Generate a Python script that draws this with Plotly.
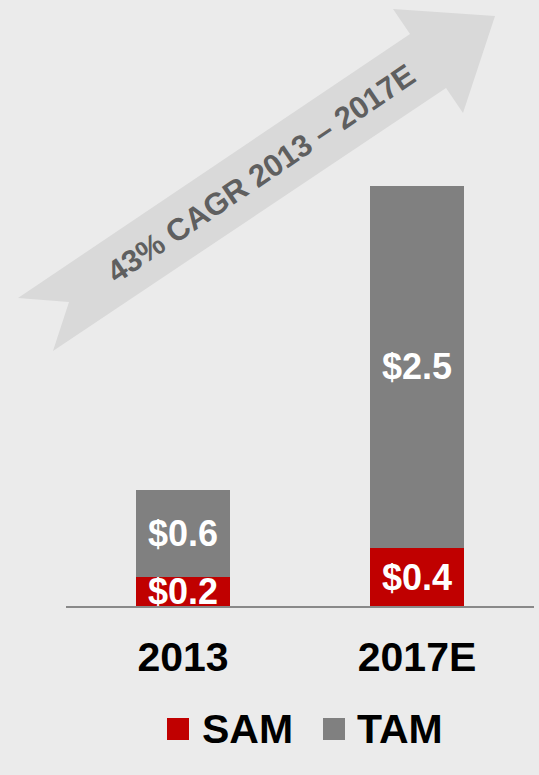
import plotly.graph_objects as go

W, H = 539, 775

years = ["2013", "2017E"]
sam = [0.2, 0.4]
tam = [0.6, 2.5]
sam_labels = ["$0.2", "$0.4"]
tam_labels = ["$0.6", "$2.5"]
cagr_text = "43% CAGR 2013 – 2017E"

RED = "#c00000"
GREY = "#808080"
BG = "#ebebeb"
FONT = "Liberation Sans, Arial, sans-serif"


def px(x, y):
    # pixel -> paper fraction (margins are zero so paper == whole figure)
    return x / W, 1 - y / H


fig = go.Figure()
fig.add_trace(go.Bar(
    x=years, y=sam, name="SAM", marker=dict(color=RED, line=dict(width=0)),
    text=sam_labels, textposition="inside", insidetextanchor="middle",
    textangle=0, constraintext="none",
    textfont=dict(family=FONT, size=36, color="white", weight="bold"),
))
fig.add_trace(go.Bar(
    x=years, y=tam, name="TAM", marker=dict(color=GREY, line=dict(width=0)),
    text=tam_labels, textposition="inside", insidetextanchor="middle",
    textangle=0, constraintext="none",
    textfont=dict(family=FONT, size=36, color="white", weight="bold"),
))

# big growth arrow behind the bars
pts = [(18, 298), (410, 34), (393, 9), (495, 16), (463, 113),
       (446, 88), (53, 351), (69, 302)]
path = ""
for i, (x, y) in enumerate(pts):
    fx, fy = px(x, y)
    path += ("M" if i == 0 else "L") + f"{fx:.4f},{fy:.4f}"
path += "Z"
fig.add_shape(type="path", path=path, xref="paper", yref="paper",
              fillcolor="#d9d9d9", line=dict(width=0), layer="below")

cx, cy = px(261, 173)
fig.add_annotation(x=cx, y=cy, xref="paper", yref="paper", text=cagr_text,
                   showarrow=False, textangle=-34, xanchor="center", yanchor="middle",
                   font=dict(family=FONT, size=31, color="#5f5f5f", weight="bold"))

# legend drawn by hand for the large square swatches
legend = [("SAM", RED, 167, 200), ("TAM", GREY, 323, 355)]
for name, col, sx, tx in legend:
    x0, y0 = px(sx, 718)
    x1, y1 = px(sx + 22, 740)
    fig.add_shape(type="rect", xref="paper", yref="paper", x0=x0, y0=y0, x1=x1, y1=y1,
                  fillcolor=col, line=dict(width=0))
    lx, ly = px(tx, 729)
    fig.add_annotation(x=lx, y=ly, xref="paper", yref="paper", text=name,
                       showarrow=False, xanchor="left", yanchor="middle",
                       font=dict(family=FONT, size=41, color="black", weight="bold"))

fig.update_layout(
    width=W, height=H,
    margin=dict(l=0, r=0, t=0, b=0),
    paper_bgcolor=BG, plot_bgcolor=BG,
    barmode="stack", bargap=0.6,
    showlegend=False,
    xaxis=dict(domain=[66 / W, 534 / W], range=[-0.5, 1.5],
               showline=True, linecolor="#898989", linewidth=2,
               showgrid=False, zeroline=False, ticks="",
               tickfont=dict(family=FONT, size=41, color="black", weight="bold"),
               ticklabelstandoff=14),
    yaxis=dict(domain=[169 / H, 1], range=[0, 606 / 145], visible=False,
               showgrid=False, zeroline=False),
)

fig.write_html("out.html", config={"displayModeBar": False},
               post_script="document.body.style.margin='0';document.body.style.background='#ebebeb';")
